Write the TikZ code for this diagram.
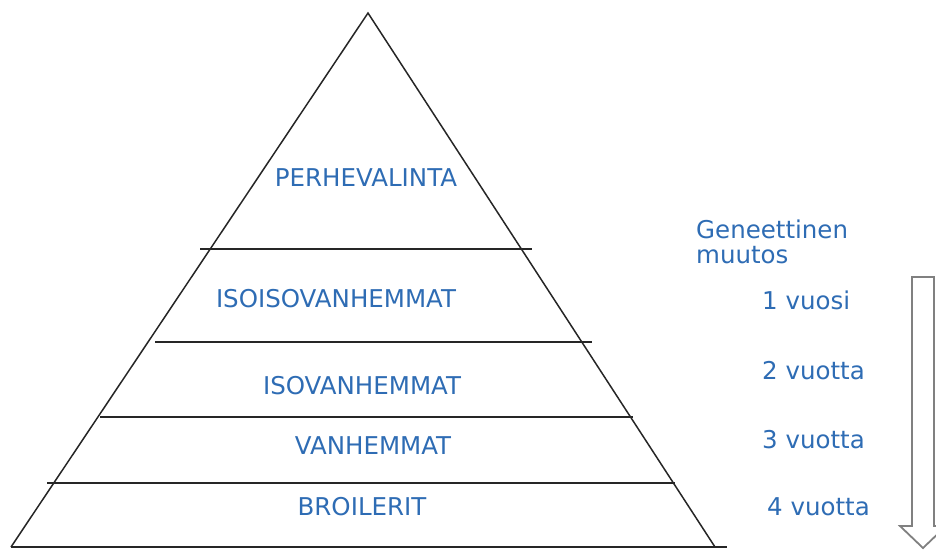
\documentclass[tikz,border=0pt]{standalone}
\usepackage{fontspec}
\setmainfont{DejaVu Sans}
\definecolor{txtblue}{RGB}{46,108,180}
\definecolor{arrowgray}{RGB}{128,128,128}
\tikzset{
  lbl/.style={text=txtblue, font=\fontsize{24.5}{28}\selectfont, inner sep=0pt},
  tri/.style={draw=black!85, line width=1.5pt, line join=miter},
  tier/.style={draw=black!85, line width=1.6pt},
  bigarrow/.style={draw=arrowgray, fill=white, line width=1.8pt, line join=miter}
}
\begin{document}
\begin{tikzpicture}[x=1pt,y=-1pt]
\useasboundingbox (0,0) rectangle (936,550);
% pyramid
\coordinate (apex) at (368,13);
\coordinate (bl) at (11,547);
\coordinate (br) at (715,547);
\draw[tri] (bl) -- (apex) -- (br);
\coordinate (b1) at (11,547);
\coordinate (b2) at (727,547);
\draw[tier] (b1) -- (b2);
\coordinate (l1a) at (200,249); \coordinate (l1b) at (532,249);
\coordinate (l2a) at (155,342); \coordinate (l2b) at (592,342);
\coordinate (l3a) at (100,417); \coordinate (l3b) at (633,417);
\coordinate (l4a) at (47,483);  \coordinate (l4b) at (675,483);
\draw[tier] (l1a) -- (l1b);
\draw[tier] (l2a) -- (l2b);
\draw[tier] (l3a) -- (l3b);
\draw[tier] (l4a) -- (l4b);
% level labels
\node[lbl] (perhe) at (366,178) {PERHEVALINTA};
\node[lbl] (isoiso) at (336,299) {ISOISOVANHEMMAT};
\node[lbl] (iso) at (362,386) {ISOVANHEMMAT};
\node[lbl] (van) at (373,446) {VANHEMMAT};
\node[lbl] (broi) at (362,507) {BROILERIT};
% right labels
\node[lbl, anchor=west] (gen) at (696,229) {Geneettinen};
\node[lbl, anchor=west] (muu) at (696,255) {muutos};
\node[lbl, anchor=west] (v1) at (762,300) {1 vuosi};
\node[lbl, anchor=west] (v2) at (762,371) {2 vuotta};
\node[lbl, anchor=west] (v3) at (762,440) {3 vuotta};
\node[lbl, anchor=west] (v4) at (767,507) {4 vuotta};
% block arrow
\draw[bigarrow] (912,277) -- (934,277) -- (934,526) -- (946,526) -- (923,548) -- (900,526) -- (912,526) -- cycle;
\end{tikzpicture}
\end{document}
